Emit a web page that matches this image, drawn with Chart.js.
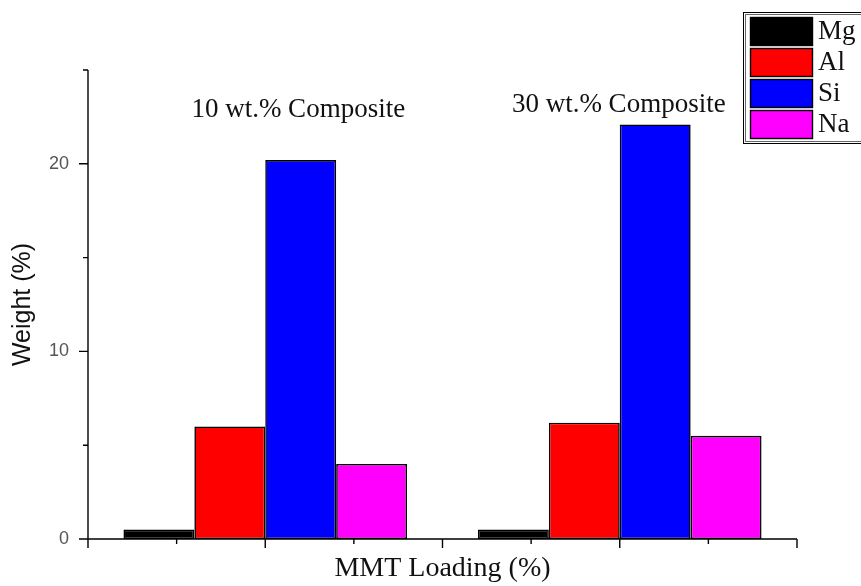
<!DOCTYPE html>
<html>
<head>
<meta charset="utf-8">
<script src="https://cdn.jsdelivr.net/npm/chart.js@4.4.1/dist/chart.umd.min.js"></script>
<style>
html,body{margin:0;padding:0;background:#fff;}
#wrap{width:861px;height:586px;}
</style>
</head>
<body>
<div id="wrap"><canvas id="c" width="861" height="586"></canvas></div>
<script>
const categories = ['10', '30'];
const seriesNames = ['Mg', 'Al', 'Si', 'Na'];
const mgValues = [0.5, 0.5];
const alValues = [6.0, 6.2];
const siValues = [20.2, 22.1];
const naValues = [4.0, 5.5];
const yTickLabels = ['0', '10', '20'];
const annotations = ['10 wt.% Composite', '30 wt.% Composite'];
const xTitle = 'MMT Loading (%)';
const yTitle = 'Weight (%)';

const colors = ['#000000', '#ff0000', '#0000ff', '#ff00ff'];
const allValues = [mgValues, alValues, siValues, naValues];

const datasets = seriesNames.map((n, i) => ({
  label: n,
  data: allValues[i],
  backgroundColor: colors[i],
  borderColor: '#000000',
  borderWidth: 1.6,
  borderSkipped: false,
  categoryPercentage: 0.8,
  barPercentage: 1.0
}));

const serif = '"Liberation Serif", "Times New Roman", serif';

const axisPlugin = {
  id: 'axisDeco',
  afterDraw(chart) {
    const ctx = chart.ctx;
    const x = chart.scales.x, y = chart.scales.y;
    const left = x.left, right = x.right, bottom = y.getPixelForValue(0), top = y.getPixelForValue(25);
    ctx.save();
    ctx.strokeStyle = '#000';
    ctx.lineWidth = 1.4;
    ctx.beginPath();
    ctx.moveTo(left, top); ctx.lineTo(left, bottom);
    ctx.moveTo(left, bottom); ctx.lineTo(right, bottom);
    for (let v = 0; v <= 25; v += 5) {
      const p = y.getPixelForValue(v);
      const len = (v % 10 === 0) ? 9 : 5;
      ctx.moveTo(left - len, p); ctx.lineTo(left, p);
    }
    for (let i = 0; i <= 8; i++) {
      const p = left + (right - left) * i / 8;
      const len = (i % 2 === 0) ? 9 : 5;
      ctx.moveTo(p, bottom); ctx.lineTo(p, bottom + len);
    }
    ctx.stroke();

    ctx.fillStyle = '#111';
    ctx.font = '27px ' + serif;
    ctx.textAlign = 'center';
    ctx.textBaseline = 'alphabetic';
    const offs = [33, -1];
    const ys = [117, 112];
    annotations.forEach((t, i) => {
      const cx = x.getPixelForValue(i) + offs[i];
      ctx.fillText(t, cx, ys[i]);
    });

    const lx = 743, ly = 12, lw = 130, lh = 131;
    ctx.lineWidth = 1;
    ctx.strokeStyle = '#000';
    ctx.strokeRect(lx + 0.5, ly + 0.5, lw, lh);
    ctx.strokeStyle = '#666';
    ctx.strokeRect(lx + 2.5, ly + 2.5, lw, lh - 4);
    ctx.font = '27px ' + serif;
    ctx.textAlign = 'left';
    ctx.textBaseline = 'middle';
    chart.data.datasets.forEach((ds, i) => {
      const by = 17 + i * 31;
      ctx.fillStyle = ds.backgroundColor;
      ctx.fillRect(750, by, 62, 28);
      ctx.strokeStyle = '#000';
      ctx.lineWidth = 1.4;
      ctx.strokeRect(750.5, by + 0.5, 62, 28);
      ctx.fillStyle = '#111';
      ctx.fillText(ds.label, 818, by + 15);
    });
    ctx.restore();
  }
};

new Chart(document.getElementById('c'), {
  type: 'bar',
  data: { labels: categories, datasets },
  options: {
    responsive: false,
    animation: false,
    layout: { padding: { left: 0, right: 64, top: 70, bottom: 0 } },
    plugins: { legend: { display: false }, tooltip: { enabled: false } },
    scales: {
      x: {
        offset: true,
        grid: { display: false },
        border: { display: false },
        ticks: { display: false },
        title: { display: true, text: xTitle, color: '#111', font: { family: serif, size: 28 }, padding: { top: 0, bottom: 1 } },
        afterFit(s) { s.height = 47; }
      },
      y: {
        min: 0, max: 25,
        grid: { display: false },
        border: { display: false },
        ticks: {
          stepSize: 10,
          color: '#555',
          padding: 11,
          font: { family: '"Liberation Sans", Arial, sans-serif', size: 18 },
          callback: (v) => yTickLabels.includes(String(v)) ? String(v) : ''
        },
        title: { display: true, text: yTitle, color: '#111', font: { family: '"Liberation Sans", Arial, sans-serif', size: 25 }, padding: { top: 8, bottom: 0 } },
        afterFit(s) { s.width = 88; }
      }
    }
  },
  plugins: [axisPlugin]
});
</script>
</body>
</html>
